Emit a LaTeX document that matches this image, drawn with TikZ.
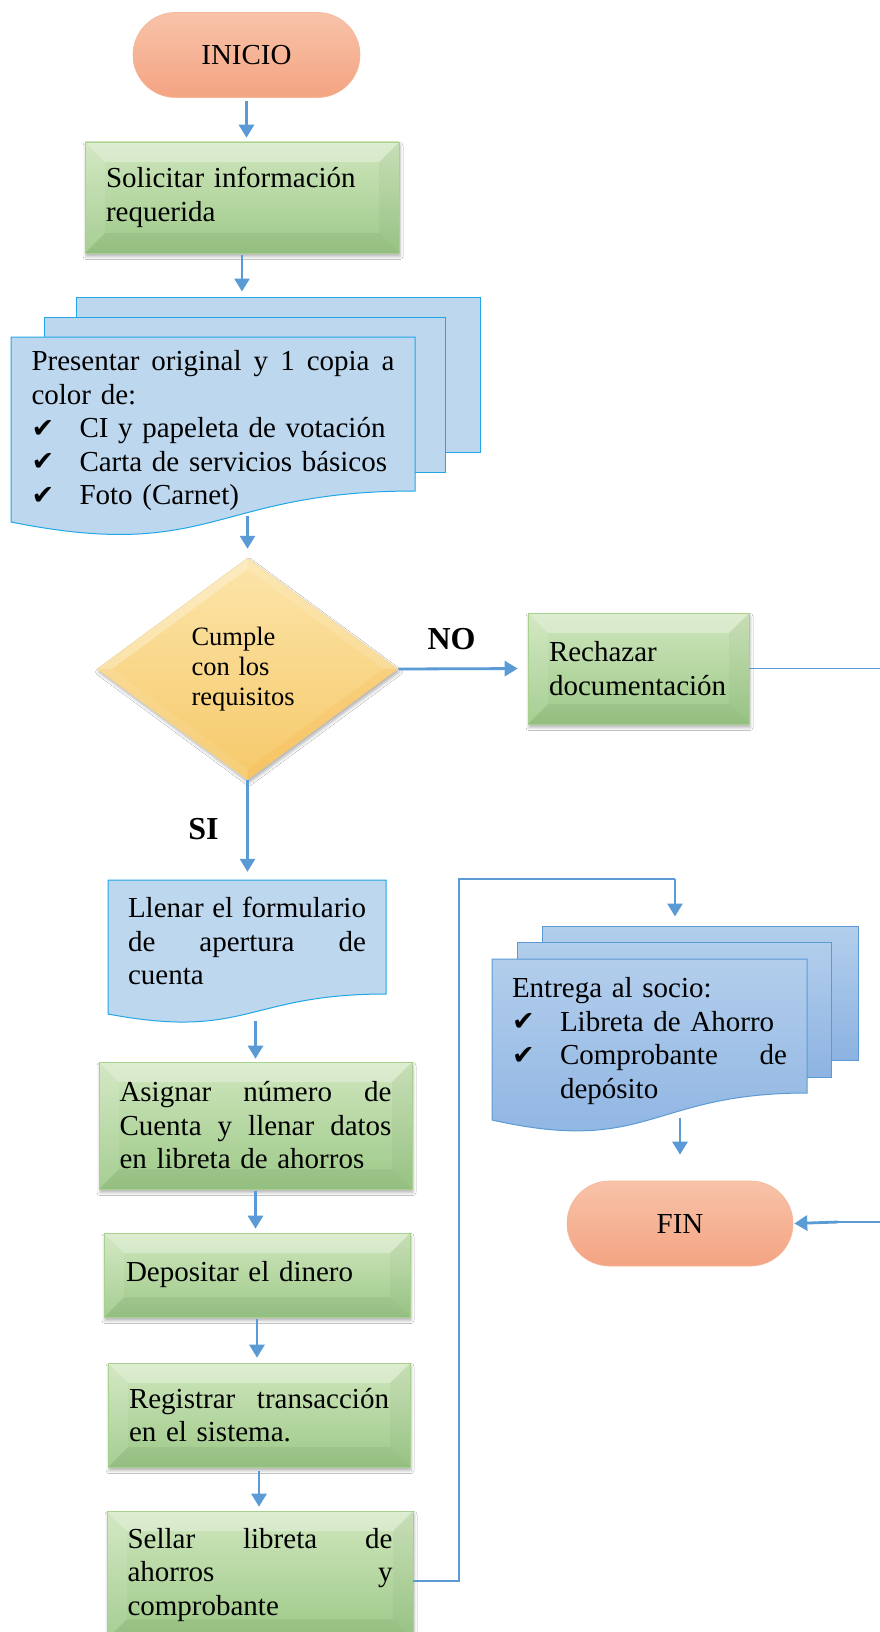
\documentclass[tikz,border=0pt]{standalone}
\usepackage{fontspec}
\setmainfont{Liberation Serif}
\newfontfamily\symf{DejaVu Sans}
\usetikzlibrary{arrows.meta,shapes.geometric,shapes.misc,shadows.blur,calc}
\definecolor{arrc}{HTML}{5B9BD5}
\definecolor{gtop}{HTML}{CFE6BD}
\definecolor{gbot}{HTML}{9DC988}
\definecolor{gline}{HTML}{A9D18E}
\definecolor{ptop}{HTML}{F8C3A9}
\definecolor{pbot}{HTML}{F4A482}
\definecolor{pline}{HTML}{F5B597}
\definecolor{dtop}{HTML}{FCE5AA}
\definecolor{dbot}{HTML}{F6C96A}
\definecolor{dline}{HTML}{EED191}
\definecolor{lbfill}{HTML}{BDD7EE}
\definecolor{lbline}{HTML}{22A6E6}
\definecolor{btop}{HTML}{B2CEEC}
\definecolor{bbot}{HTML}{8DB3E2}
\definecolor{bline}{HTML}{5B9BD5}
\newcommand\mainsz{\fontsize{29}{33.5}\selectfont}
\newcommand\diasz{\fontsize{26.5}{30}\selectfont}
\newcommand\lblsz{\fontsize{32}{32}\selectfont\bfseries}
\newcommand\hf{\hskip 0pt plus 1fill\relax}
\newcommand\ck{\makebox[48pt][l]{\raisebox{0.5pt}{\symf\fontsize{27}{27}\selectfont ✔}}}
\newcommand\docfront[6]{%
  \path[#1] (#2,#3) -- (#4,#3) -- (#4,#5-#6)
    .. controls ({(#2+#4)/2},#5-#6) and ({(#2+#4)/2},#5+1.31*#6) .. (#2,#5) -- cycle;}
\tikzset{
  bevel/.style={path picture={
    \path (path picture bounding box.north west) coordinate (bnw)
          (path picture bounding box.north east) coordinate (bne)
          (path picture bounding box.south west) coordinate (bsw)
          (path picture bounding box.south east) coordinate (bse);
    \fill[white,opacity=.30] (bnw) -- (bne) -- ([shift={(-20pt,-20pt)}]bne) -- ([shift={(20pt,-20pt)}]bnw) -- cycle;
    \fill[white,opacity=.10] (bnw) -- ([shift={(20pt,-20pt)}]bnw) -- ([shift={(20pt,20pt)}]bsw) -- (bsw) -- cycle;
    \fill[black,opacity=.03] (bne) -- ([shift={(-20pt,-20pt)}]bne) -- ([shift={(-20pt,20pt)}]bse) -- (bse) -- cycle;
    \fill[black,opacity=.05] (bsw) -- ([shift={(20pt,20pt)}]bsw) -- ([shift={(-20pt,20pt)}]bse) -- (bse) -- cycle;
  }},
  gbox/.style={rectangle, draw=gline, line width=0.6pt, top color=gtop, bottom color=gbot,
    blur shadow={shadow xshift=1pt, shadow yshift=-3.5pt, shadow blur radius=3pt, shadow opacity=30},
    bevel, inner sep=0pt, font=\mainsz, align=left},
  pill/.style={rounded rectangle, draw=pline, line width=0.6pt, top color=ptop, bottom color=pbot,
    inner sep=0pt, font=\mainsz},
  decision/.style={diamond, draw=dline, line width=0.5pt, top color=dtop, bottom color=dbot,
    blur shadow={shadow xshift=1.5pt, shadow yshift=-3pt, shadow blur radius=3pt, shadow opacity=30},
    inner sep=0pt, font=\diasz, align=left},
  docl/.style={draw=lbline, line width=1pt, fill=lbfill},
  docb/.style={draw=bline, line width=1pt, top color=btop, bottom color=bbot},
  txt/.style={inner sep=0pt, font=\mainsz, align=left},
  lbl/.style={inner sep=0pt, font=\lblsz},
  arr/.style={draw=arrc, line width=2.8pt, -{Triangle[width=15pt,length=13pt]}},
  conn/.style={draw=arrc, line width=1.3pt},
}
\begin{document}
\begin{tikzpicture}[x=1pt,y=-1pt]
\useasboundingbox (0,0) rectangle (879,1632);
\fill[white] (0,0) rectangle (879,1632);

% INICIO
\node[pill, minimum width=227pt, minimum height=85pt] (inicio) at (246.5,55) {INICIO};
% Solicitar
\node[gbox, minimum width=314pt, minimum height=111pt, text width=272pt] (solic) at (242,197.5)
  {Solicitar información\\requerida};
% Presentar multidocument
\node[docl, rectangle, inner sep=0pt, minimum width=404pt, minimum height=155pt] (presA) at (278,374.5) {};
\node[docl, rectangle, inner sep=0pt, minimum width=401pt, minimum height=155pt] (presB) at (244.5,394.5) {};
\docfront{docl}{11}{337}{415}{522}{31}
\node[txt, minimum width=404pt, minimum height=185pt, text width=363pt] (pres) at (213,431)
  {Presentar\hf original\hf y\hf 1\hf copia\hf a\\
   color de:\\
   \ck CI y papeleta de votación\\
   \ck Carta de servicios básicos\\
   \ck Foto (Carnet)};
% Decision
\node[decision, minimum width=301pt, minimum height=222pt, aspect=1.356, text width=112pt] (dia) at (247.5,669)
  {Cumple\\con los\\requisitos};
\fill[white,opacity=.28] (dia.north) -- (dia.west) -- ($(dia.west)!.1!(dia.center)$) -- ($(dia.north)!.1!(dia.center)$) -- cycle;
\fill[white,opacity=.12] (dia.north) -- (dia.east) -- ($(dia.east)!.1!(dia.center)$) -- ($(dia.north)!.1!(dia.center)$) -- cycle;
\fill[orange,opacity=.08] (dia.south) -- (dia.east) -- ($(dia.east)!.1!(dia.center)$) -- ($(dia.south)!.1!(dia.center)$) -- cycle;
\fill[white,opacity=.08] (dia.south) -- (dia.west) -- ($(dia.west)!.1!(dia.center)$) -- ($(dia.south)!.1!(dia.center)$) -- cycle;
\node[lbl] (no) at (451.5,639) {NO};
\node[lbl] (si) at (203.5,829) {SI};
% Rechazar
\node[gbox, minimum width=221pt, minimum height=111pt, text width=179pt] (rech) at (638.5,668.5)
  {Rechazar\\documentación};
% Llenar document
\docfront{docl}{108}{880}{386}{1014}{20}
\node[txt, minimum width=278pt, minimum height=122pt, text width=238pt] (llen) at (247,941)
  {Llenar\hf el\hf formulario\\de\hf apertura\hf de\\cuenta};
% Green process boxes
\node[gbox, minimum width=313pt, minimum height=127pt, text width=272pt] (asig) at (255.5,1125.5)
  {Asignar\hf número\hf de\\Cuenta\hf y\hf llenar\hf datos\\en libreta de ahorros};
\node[gbox, minimum width=306pt, minimum height=84pt, text width=262pt] (depo) at (257,1275)
  {Depositar el dinero};
\node[gbox, minimum width=302pt, minimum height=104pt, text width=260pt] (regi) at (259,1415)
  {Registrar\hf transacción\\en el sistema.};
\node[gbox, minimum width=306pt, minimum height=128pt, text width=265pt] (sell) at (260,1575)
  {Sellar\hf libreta\hf de\\ahorros\hf y\\comprobante};
% Entrega multidocument
\node[docb, rectangle, inner sep=0pt, minimum width=316pt, minimum height=134pt] (entA) at (700,993) {};
\node[docb, rectangle, inner sep=0pt, minimum width=314pt, minimum height=135pt] (entB) at (674,1009.5) {};
\docfront{docb}{492}{959}{807}{1120}{27}
\node[txt, minimum width=315pt, minimum height=161pt, text width=275pt] (ent) at (649.5,1041)
  {Entrega al socio:\\
   \ck Libreta de Ahorro\\
   \ck Comprobante\hf de\\
   \hspace*{48pt}depósito};
% FIN
\node[pill, minimum width=226pt, minimum height=85pt] (fin) at (680,1223.5) {FIN};

% helper coordinates
\coordinate (cA) at (459,879);
\coordinate (cB) at (675,879);
\coordinate (cR) at (895,668.5);
\coordinate (cF) at (838,1222);
\coordinate (l1) at ([yshift=-19pt]llen.south);

% connectors
\draw[arr, shorten <=3pt, shorten >=4pt] (inicio.south) -- (inicio.south |- solic.north);
\draw[arr, shorten <=2pt, shorten >=5pt] (solic.south) -- (solic.south |- presA.north);
\draw[arr, shorten <=-8pt, shorten >=9pt] (dia.north |- pres.south) -- (dia.north);
\draw[arr, shorten >=10pt] (dia.east) -- (rech.west);
\draw[arr, shorten >=8pt] (dia.south) -- (dia.south |- llen.north);
\draw[arr, shorten >=3pt] (asig.north |- l1) -- (asig.north);
\draw[arr, shorten <=2pt, shorten >=4pt] (asig.south) -- (asig.south |- depo.north);
\draw[arr, shorten <=2pt, shorten >=5pt] (depo.south) -- (depo.south |- regi.north);
\draw[arr, shorten <=4pt, shorten >=4pt] (regi.south) -- (regi.south |- sell.north);
\draw[conn] ([yshift=-6pt]sell.east) -| (cA) -- (cB);
\draw[arr, shorten >=9pt] (cB) -- (cB |- entA.north);
\draw[arr, shorten <=-4pt, shorten >=26pt] (fin.north |- ent.south) -- (fin.north);
\draw[conn] (rech.east) -- (cR) |- (cF);
\draw[arr, shorten >=1pt] (cF) -- (fin.east);
\end{tikzpicture}
\end{document}
